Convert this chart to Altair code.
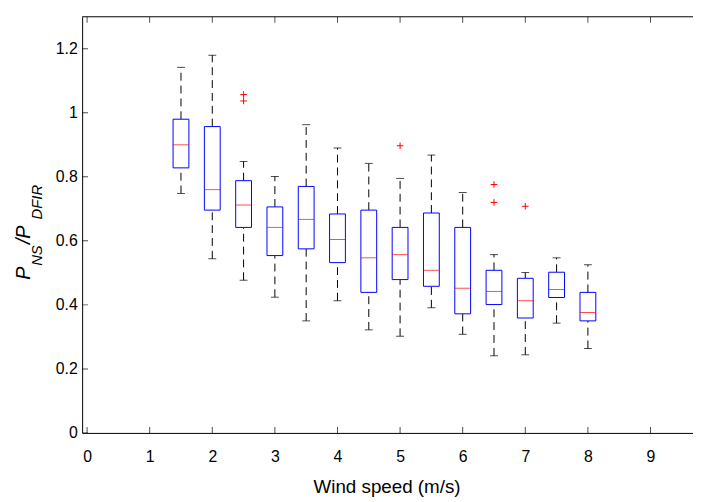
import altair as alt
import pandas as pd

FONT = "Liberation Sans"

# Box-plot statistics
speeds = [1.5, 2.0, 2.5, 3.0, 3.5, 4.0, 4.5, 5.0, 5.5, 6.0, 6.5, 7.0, 7.5, 8.0]
upper = [1.142, 1.180, 0.848, 0.801, 0.963, 0.890, 0.842, 0.795, 0.868, 0.751, 0.557, 0.501, 0.547, 0.525]
q3 = [0.980, 0.957, 0.788, 0.706, 0.770, 0.684, 0.696, 0.642, 0.687, 0.642, 0.508, 0.483, 0.502, 0.439]
median = [0.900, 0.760, 0.712, 0.642, 0.667, 0.604, 0.547, 0.557, 0.508, 0.452, 0.442, 0.413, 0.448, 0.376]
q1 = [0.828, 0.696, 0.642, 0.554, 0.575, 0.532, 0.439, 0.479, 0.458, 0.372, 0.401, 0.359, 0.423, 0.350]
lower = [0.748, 0.544, 0.477, 0.424, 0.350, 0.413, 0.322, 0.302, 0.391, 0.308, 0.241, 0.244, 0.343, 0.264]

outlier_x = [2.5, 2.5, 5.0, 6.5, 6.5, 7.0]
outlier_y = [1.057, 1.037, 0.897, 0.776, 0.720, 0.708]

x_ticks = [0, 1, 2, 3, 4, 5, 6, 7, 8, 9]
y_ticks = [0, 0.2, 0.4, 0.6, 0.8, 1.0, 1.2]

W, H = 618, 421
X_MAX = 9.6

df = pd.DataFrame({"speed": speeds, "upper": upper, "q3": q3, "median": median,
                   "q1": q1, "lower": lower})
out_df = pd.DataFrame({"speed": outlier_x, "val": outlier_y})
xt_df = pd.DataFrame({"speed": x_ticks})
yt_df = pd.DataFrame({"val": y_ticks})
one = pd.DataFrame({"a": [0]})

xscale = alt.Scale(domain=[0, X_MAX], nice=False, zero=False)
yscale = alt.Scale(domain=[0, 1.3], nice=False, zero=False)

xaxis = alt.Axis(orient="bottom", values=x_ticks, ticks=False, tickSize=0, grid=False,
                 domainColor="black", labelColor="black", labelFontSize=16, labelFont=FONT,
                 labelPadding=16, title="Wind speed (m/s)", titleFont=FONT, titleFontSize=19,
                 titleFontWeight="normal", titleColor="black", titlePadding=13,
                 labelFlush=False, titleX=308)
yaxis = alt.Axis(orient="left", values=y_ticks, format="~g", ticks=False, tickSize=0,
                 grid=False, domainColor="black", labelColor="black", labelFontSize=16,
                 labelFont=FONT, labelPadding=5, title="")


def X(field):
    return alt.X(field, type="quantitative", scale=xscale, axis=xaxis)


def Y(field):
    return alt.Y(field, type="quantitative", scale=yscale, axis=yaxis)


base = alt.Chart(df)

wh_hi = base.mark_rule(color="black", strokeDash=[8, 5], strokeWidth=1).encode(
    x=X("speed"), y=Y("q3"), y2="upper:Q")
wh_lo = base.mark_rule(color="black", strokeDash=[8, 5], strokeWidth=1).encode(
    x=X("speed"), y=Y("lower"), y2="q1:Q")
cap_hi = base.mark_tick(color="black", size=8, thickness=1, orient="horizontal").encode(
    x=X("speed"), y=Y("upper"))
cap_lo = base.mark_tick(color="black", size=8, thickness=1, orient="horizontal").encode(
    x=X("speed"), y=Y("lower"))
box = base.mark_bar(size=16, fill="white", stroke="#0000ff", strokeWidth=1).encode(
    x=X("speed"), y=Y("q1"), y2="q3:Q")
med = base.mark_tick(color="#ff0000", size=16, thickness=1, orient="horizontal").encode(
    x=X("speed"), y=Y("median"))
outl = alt.Chart(out_df).mark_point(shape="M-1,0L1,0M0,-1L0,1", filled=False,
                                    stroke="#ff0000", strokeWidth=1, size=45,
                                    opacity=1).encode(x=X("speed"), y=Y("val"))

ytk = alt.Chart(yt_df).mark_tick(color="black", size=12, thickness=1, orient="horizontal",
                                 clip=True).encode(x=alt.value(0), y=Y("val"))
xtk_b = alt.Chart(xt_df).mark_tick(color="black", size=12, thickness=1, orient="vertical",
                                   clip=True).encode(x=X("speed"), y=alt.value(H))
xtk_t = alt.Chart(xt_df).mark_tick(color="black", size=12, thickness=1, orient="vertical",
                                   clip=True).encode(x=X("speed"), y=alt.value(0))
top = alt.Chart(one).mark_rule(color="black", strokeWidth=1).encode(
    x=alt.value(0), x2=alt.value(W), y=alt.value(0))
# white cover for the frame edge that the cropped reference does not show
cover = alt.Chart(one).mark_rule(color="white", strokeWidth=4).encode(
    x=alt.value(W), y=alt.value(2), y2=alt.value(H - 2))


def piece(txt, px, py, fs):
    return alt.Chart(one).mark_text(text=txt, angle=270, align="left", baseline="alphabetic",
                                    fontSize=fs, fontStyle="italic", font=FONT,
                                    color="black").encode(x=alt.value(px), y=alt.value(py))


title_layers = [
    piece("P", -53, 266, 20),
    piece("NS", -41, 252, 15),
    piece("/P", -53, 230, 20),
    piece("DFIR", -41, 205, 15),
]

chart = alt.layer(wh_hi, wh_lo, cap_hi, cap_lo, box, med, outl, ytk, xtk_b, xtk_t, top,
                  cover, *title_layers).properties(
    width=W, height=H,
    autosize=alt.AutoSizeParams(type="none"),
    padding={"left": 75, "top": 6, "right": 0, "bottom": 66},
).configure_view(stroke="transparent", strokeWidth=0)

chart.save("out.html", embed_options={"renderer": "svg", "actions": False})
